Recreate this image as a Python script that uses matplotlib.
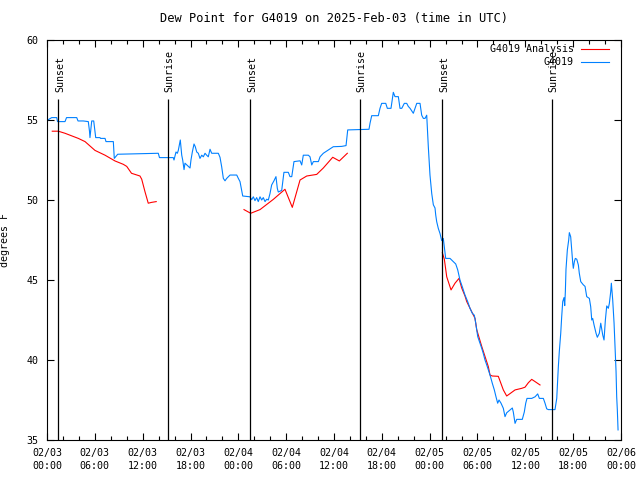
import matplotlib
matplotlib.use('Agg')
import matplotlib.pyplot as plt
import numpy as np

plt.rcParams['font.family'] = 'DejaVu Sans Mono'
plt.rcParams['font.size'] = 7.2

# station obs: hours since 2025-02-03 00:00 UTC, dew point (F)
obs_hours = [0.09, 0.59, 1.22, 1.32, 2.26, 2.45, 3.73, 3.89, 4.55, 5.18, 5.33, 5.39, 5.61, 5.86,
             6.11, 6.65, 6.71, 7.28, 7.40, 8.32, 8.44, 8.87, 13.96, 14.11, 15.84, 15.93, 16.06,
             16.18, 16.35, 16.47, 16.60, 16.72, 16.90, 17.02, 17.19, 17.31, 17.52, 17.72, 17.94,
             18.06, 18.23, 18.44, 18.60, 18.78, 18.98, 19.19, 19.41, 19.61, 19.82, 20.03, 20.23,
             20.45, 20.66, 21.49, 21.70, 21.91, 22.12, 22.33, 22.54, 22.96, 23.80, 24.00, 24.21,
             24.42, 24.55, 25.46, 25.67, 25.88, 26.09, 26.30, 26.50, 26.72, 26.93, 27.13, 27.35,
             27.56, 27.76, 27.97, 28.18, 28.47, 28.72, 28.89, 29.01, 29.44, 29.72, 30.27, 30.48,
             30.70, 30.98, 31.74, 31.95, 32.15, 32.78, 32.99, 33.21, 33.41, 34.04, 34.25, 34.66,
             35.29, 35.91, 36.96, 37.51, 37.72, 40.39, 40.52, 40.73, 41.56, 41.77, 41.98, 42.49,
             42.69, 43.15, 43.44, 43.65, 44.07, 44.28, 44.50, 44.82, 45.12, 45.32, 45.54, 45.95,
             46.16, 46.38, 46.79, 47.00, 47.21, 47.42, 47.63, 47.83, 48.04, 48.26, 48.46, 48.67,
             48.76, 48.88, 49.08, 49.30, 49.51, 49.71, 49.84, 50.01, 50.55, 50.97, 51.27, 51.52,
             51.80, 52.09, 52.43, 52.77, 53.06, 53.35, 53.60, 53.78, 53.90, 54.03, 54.32, 54.53,
             54.73, 54.94, 55.16, 55.36, 55.57, 55.86, 56.11, 56.32, 56.53, 56.70, 56.95, 57.24,
             57.45, 57.66, 58.08, 58.37, 58.49, 58.71, 58.92, 59.62, 59.87, 60.05, 60.21, 60.80,
             61.22, 61.55, 61.76, 62.26, 62.47, 62.68, 62.88, 63.72, 63.94, 64.14, 64.26, 64.44,
             64.56, 64.69, 64.85, 64.94, 65.02, 65.10, 65.27, 65.44, 65.52, 65.69, 65.82, 65.95,
             66.02, 66.15, 66.27, 66.45, 66.65, 66.77, 66.95, 67.27, 67.49, 67.70, 68.03, 68.20,
             68.33, 68.45, 68.62, 68.87, 69.03, 69.28, 69.46, 69.71, 69.87, 70.04, 70.21, 70.41,
             70.54, 70.71, 70.79, 70.96, 71.13, 71.25, 71.38, 71.46, 71.54, 71.63]
obs_dewpt = [55.0, 55.15, 55.15, 54.9, 54.9, 55.15, 55.15, 54.94, 54.94, 54.9, 54.3, 53.9, 54.94, 54.94,
             53.9, 53.9, 53.85, 53.85, 53.65, 53.65, 52.6, 52.86, 52.92, 52.65, 52.65, 52.5, 52.75,
             53.0, 52.92, 53.1, 53.44, 53.75, 52.8, 52.5, 51.9, 52.3, 52.2, 52.1, 52.0,
             52.5, 53.0, 53.5, 53.33, 53.0, 52.92, 52.6, 52.8, 52.7, 52.92, 52.8, 52.7,
             53.17, 52.92, 52.92, 52.67, 52.08, 51.35, 51.2, 51.35, 51.56, 51.56, 51.35, 51.15,
             50.6, 50.25, 50.2, 50.02, 50.2, 49.96, 50.15, 49.9, 50.2, 50.0, 50.15, 49.9,
             50.05, 50.0, 50.4, 50.94, 51.2, 51.46, 50.73, 50.5, 50.6, 51.73, 51.73, 51.46,
             51.46, 52.4, 52.45, 52.19, 52.8, 52.8, 52.7, 52.19, 52.4, 52.4, 52.7, 52.92,
             53.13, 53.33, 53.35, 53.4, 54.38, 54.42, 54.8, 55.27, 55.27, 55.73, 56.04, 56.04,
             55.73, 55.73, 56.73, 56.46, 56.46, 55.73, 55.73, 56.04, 56.04, 55.85, 55.73, 55.42,
             55.73, 56.04, 56.04, 55.3, 55.1, 55.1, 55.3, 53.33, 51.56, 50.4, 49.7, 49.5,
             49.06, 48.65, 48.23, 47.9, 47.46, 47.6, 47.08, 46.35, 46.35, 46.15, 46.0, 45.63,
             45.0, 44.58, 44.06, 43.65, 43.23, 42.92, 42.8, 42.3, 41.9, 41.46, 41.04, 40.73,
             40.4, 40.0, 39.69, 39.38, 39.06, 38.54, 38.13, 37.7, 37.3, 37.5, 37.3, 36.98,
             36.46, 36.7, 36.88, 37.0, 36.75, 36.04, 36.29, 36.29, 36.75, 37.3, 37.6, 37.6,
             37.7, 37.88, 37.6, 37.6, 37.3, 36.95, 36.9, 36.9, 37.6, 39.58, 40.52, 41.67,
             42.7, 43.65, 43.9, 43.4, 44.27, 45.67, 46.88, 47.5, 47.96, 47.7, 46.88, 46.04,
             45.73, 46.15, 46.35, 46.3, 45.94, 45.42, 44.9, 44.7, 44.6, 43.96, 43.85, 43.33,
             42.5, 42.6, 42.19, 41.67, 41.42, 41.67, 42.3, 41.56, 41.25, 42.5, 43.38, 43.23,
             43.54, 44.27, 44.8, 43.75, 42.3, 40.83, 39.27, 37.7, 36.88, 35.63]

# analysis (nan = gap between runs)
ana_hours = [0.66, 1.42, 2.26, 3.93, 4.77, 6.02, 7.28, 8.53, 9.57, 10.0, 10.6, 11.66, 11.88, 12.3,
             12.7, 13.1, 13.7, np.nan,
             24.71, 25.55, 26.72, 28.39, 29.85, 30.77, 31.74, 32.58, 33.83, 34.66, 35.84, 36.67,
             37.67, np.nan,
             49.59, 49.84, 50.14, 50.68, 51.18, 51.68, 52.02, 52.43, 52.65, 53.27, 53.69, 53.90,
             54.53, 55.36, 55.57, 55.86, 56.61, 57.24, 57.66, 58.08, 58.71, 59.55, 59.96, 60.38,
             60.80, 61.22, 61.84]
ana_dewpt = [54.3, 54.3, 54.17, 53.85, 53.65, 53.1, 52.8, 52.44, 52.23, 52.1, 51.67, 51.5, 51.3, 50.5,
             49.8, 49.85, 49.9, np.nan,
             49.4, 49.17, 49.4, 50.04, 50.67, 49.54, 51.25, 51.5, 51.6, 52.0, 52.67, 52.44,
             52.92, np.nan,
             46.7, 46.3, 45.2, 44.38, 44.8, 45.1, 44.5, 44.0, 43.65, 43.02, 42.6, 41.9,
             40.85, 39.58, 39.06, 39.0, 38.98, 38.13, 37.75, 37.9, 38.13, 38.23, 38.3, 38.58,
             38.79, 38.65, 38.44]

sun_hours = [1.42, 15.2, 25.5, 39.2, 49.6, 63.3]
sun_labels = ['Sunset', 'Sunrise', 'Sunset', 'Sunrise', 'Sunset', 'Sunrise']

tick_hours = list(range(0, 73, 6))
tick_labels = ['02/03\n00:00', '02/03\n06:00', '02/03\n12:00', '02/03\n18:00',
               '02/04\n00:00', '02/04\n06:00', '02/04\n12:00', '02/04\n18:00',
               '02/05\n00:00', '02/05\n06:00', '02/05\n12:00', '02/05\n18:00',
               '02/06\n00:00']

red = '#ff0000'
blue = '#0080ff'

fig = plt.figure(figsize=(6.4, 4.8), dpi=100)
ax = fig.add_axes([47/640, 40/480, 574/640, 400/480])

ax.plot(ana_hours, ana_dewpt, color=red, lw=0.8)
ax.plot(obs_hours, obs_dewpt, color=blue, lw=0.8)

# sunrise / sunset markers
ax.vlines(sun_hours, 35, 56.3, color='black', lw=0.9)
for h, lab in zip(sun_hours, sun_labels):
    ax.text(h + 0.2, 56.75, lab, rotation=90, ha='center', va='bottom')

ax.set_xlim(0, 72)
ax.set_ylim(35, 60)
ax.set_xticks(tick_hours)
ax.set_xticklabels(tick_labels, linespacing=1.35)
ax.set_xticks(range(0, 73, 2), minor=True)
ax.set_yticks(range(35, 61, 5))
ax.tick_params(direction='in', top=True, right=True, length=5, width=0.8, pad=6)
ax.tick_params(which='minor', direction='in', top=True, length=3, width=0.8)
for s in ax.spines.values():
    s.set_linewidth(0.8)

ax.set_title('Dew Point for G4019 on 2025-Feb-03 (time in UTC)', pad=13)
ax.set_ylabel('degrees F')
ax.yaxis.set_label_coords(-37/574, 0.5)

# legend, gnuplot style (text right-aligned, sample to the right)
ax.text(0.918, 0.977, 'G4019 Analysis', transform=ax.transAxes, ha='right', va='center')
ax.plot([0.930, 0.979], [0.977, 0.977], transform=ax.transAxes, color=red, lw=0.8)
ax.text(0.918, 0.944, 'G4019', transform=ax.transAxes, ha='right', va='center')
ax.plot([0.930, 0.979], [0.944, 0.944], transform=ax.transAxes, color=blue, lw=0.8)

fig.savefig('out.png', dpi=100)
